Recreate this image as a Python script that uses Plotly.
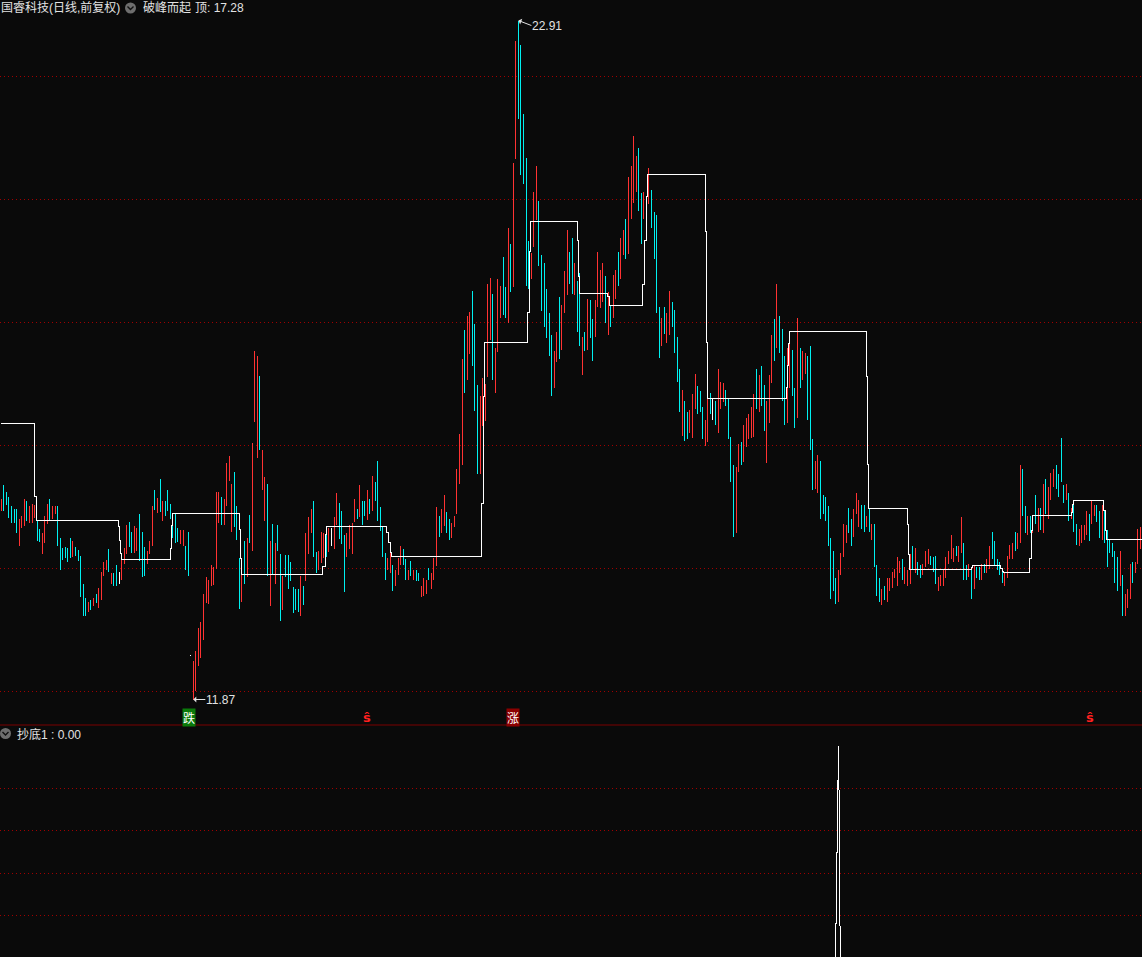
import plotly.graph_objects as go

W, H = 1142, 957

# Daily bars. kinds: r = up, c = down, w = flat
kinds = "".join([
    "rccccccrrr", "crrrccrrrc", "rrccccccrc", "ccccrcrcrr", "rrcrccwrrr",
    "ccrrcccrr", "rcrcrcccccc", "rrccw",
    "rrrrrrrrrrrcrrr",
    "rcccrcrcrr", "rcrrcrcrcc", "rccccccrcr", "rrccrrrcrw", "rrcccrrrrc", "rccrcrccc",
    "ccrrcrrrcc", "rcrccrrrcr", "rrcrrccrrr", "rrcrrcccrr", "rrrcrrrccr", "crrccccc", "r",
    "rrcccccc", "rr", "c", "rrr", "cc", "r", "cc", "r", "c", "r", "cc", "rrrr", "c", "r",
    "crrcrrcrrr", "rccrrrcccc", "rcrrccccrc", "crrrcccrrc", "wcrrrcc",
    "ccrrcrrrrrcr",
    "ccrrrcrccc", "rrccrcrrcc", "crrccccccc", "rrrrccrrrc", "crcrcccrcr",
    "rrrrrcrrrc", "rccrrrcccr", "rrrrrrcrrc", "crcrccrcrr", "cccccrrrrc",
    "rrccrcrcrc", "rcrrrccccr", "crccrrrrcr", "rccrcccccc", "rcrrrcrrr",
])

highs = [
    15.13,15.35,15.24,15.16,15.02,14.96,14.97,14.81,14.85,15.13,
    15.09,15.01,15.05,15.04,14.79,14.65,14.57,14.85,15.05,15.13,
    15.02,15.02,15.01,14.49,14.33,14.35,14.33,14.49,14.44,14.35,
    14.30,14.21,13.75,13.52,13.45,13.48,13.52,13.59,13.68,13.94,
    14.10,14.14,14.32,13.92,13.92,14.05,13.95,14.24,14.33,14.70,
    14.75,14.60,14.69,14.66,14.88,14.60,14.35,14.28,14.44,
    15.01,15.27,15.15,15.46,15.10,15.09,15.28,15.05,14.90,14.88,14.66,14.63,14.62,14.37,14.59,12.60,
    12.49,12.66,13.04,13.13,13.59,13.86,13.81,14.06,14.02,15.24,15.24,15.16,15.13,15.72,15.83,
    15.38,15.57,15.02,14.17,14.14,14.45,14.50,14.87,16.04,17.54,
    17.46,17.13,15.93,15.48,15.38,14.44,14.73,14.42,14.71,14.24,
    13.88,14.22,14.22,14.11,13.70,13.67,13.67,13.88,13.72,14.57,
    14.83,14.96,15.09,14.27,14.29,14.60,14.58,14.55,14.66,14.66,
    14.84,15.23,15.07,14.94,14.55,14.57,14.70,14.74,15.13,14.97,
    15.36,15.10,15.10,15.28,15.13,15.51,15.41,15.75,15.00,
    14.68,14.26,14.17,14.26,14.05,13.98,14.17,14.37,14.31,14.15,
    13.97,14.13,13.97,13.98,13.92,13.72,13.85,13.81,14.01,13.92,
    14.17,15.00,14.86,14.96,15.19,14.92,14.80,14.74,14.86,15.62,
    16.18,17.40,17.87,18.10,18.17,18.52,17.97,16.98,16.80,17.09,
    17.00,18.62,18.72,18.47,17.59,18.70,18.60,19.06,18.58,19.53,
    19.27,20.60,22.57,22.91,22.52,21.39,20.68,19.33,19.13,
    20.12,20.55,19.97,19.09,18.96,18.54,18.15,17.79,17.53,17.84,
    18.41,18.28,18.83,19.51,19.14,19.38,18.96,18.67,18.81,17.76,
    17.84,18.39,18.36,18.05,18.36,19.14,18.86,18.96,18.75,18.50,
    18.29,18.77,18.86,19.14,19.38,19.51,19.69,20.36,20.55,21.04,
    20.70,20.83,20.10,20.13,20.05,20.52,20.15,19.79,19.74,18.25,
    18.07,18.26,18.15,18.51,18.34,18.21,17.76,17.25,16.91,16.72,
    16.54,16.57,16.83,17.17,16.96,16.88,16.62,16.42,16.75,16.85,
    16.75,16.73,17.25,17.03,17.01,16.90,16.75,
    16.14,15.69,15.65,16.03,16.06,16.34,16.45,16.52,16.63,16.83,17.25,17.14,
    17.30,16.98,16.73,17.14,17.79,18.05,18.63,18.10,17.90,17.45,
    17.58,17.66,17.56,16.93,18.08,17.59,17.53,17.50,17.45,17.61,
    16.10,15.74,15.84,15.74,15.19,15.16,15.01,14.50,14.28,13.85,
    13.98,14.25,14.73,14.70,14.99,14.81,14.96,15.23,15.11,15.03,
    15.04,14.85,14.96,14.72,14.73,14.05,13.84,13.66,13.72,13.85,
    13.84,13.95,14.00,14.18,14.13,14.15,14.02,13.97,14.23,14.36,
    14.34,14.10,14.05,14.07,14.28,14.31,14.20,14.18,14.21,13.87,
    13.89,14.00,14.18,14.28,14.54,14.33,14.37,14.37,14.83,14.42,
    14.05,14.07,14.03,14.05,14.02,14.02,14.08,14.08,14.15,14.36,
    14.60,14.44,14.15,14.11,13.98,13.95,14.20,14.39,14.41,14.60,
    14.57,15.68,15.61,15.01,14.85,14.85,14.63,15.19,14.98,14.98,
    15.37,15.45,15.32,15.55,15.61,15.68,15.53,16.13,15.35,15.37,
    15.22,14.98,15.04,14.72,14.65,14.70,14.70,14.93,14.88,15.09,
    15.04,15.04,14.94,15.03,14.94,14.62,14.46,14.41,14.28,14.18,
    14.28,13.89,13.58,13.66,14.07,14.11,14.11,14.65,14.67,
]

lows = [
    14.93,14.93,15.03,14.82,14.74,14.74,14.57,14.37,14.66,14.69,
    14.77,14.74,14.74,14.82,14.44,14.43,14.23,14.41,14.73,14.78,
    14.81,14.88,14.37,13.98,14.14,14.17,14.10,14.17,14.19,14.20,
    14.13,13.53,13.23,13.23,13.29,13.33,13.39,13.44,13.36,13.49,
    13.88,13.97,13.95,13.74,13.71,13.71,13.75,13.81,14.08,14.24,
    14.35,14.26,14.26,14.28,14.12,13.86,13.88,14.08,14.23,
    14.37,14.95,14.90,14.92,14.78,14.85,14.93,14.81,14.49,14.41,14.43,14.40,14.37,13.98,13.88,12.58,
    11.87,12.01,12.41,12.55,12.83,13.44,13.43,13.72,13.73,14.00,14.74,14.70,14.70,15.02,15.43,
    14.59,14.68,14.46,13.34,13.45,13.75,13.87,14.42,14.28,16.39,
    15.79,15.93,15.28,14.77,13.88,13.39,13.90,13.75,14.28,13.14,
    13.32,13.87,13.67,13.80,13.28,13.33,13.30,13.23,13.41,13.79,
    14.24,14.57,14.19,13.93,13.98,14.09,14.17,14.19,14.27,14.37,
    14.32,14.71,14.48,14.40,13.61,14.19,14.32,14.24,14.76,14.81,
    14.83,14.70,14.86,14.79,14.89,14.94,15.10,14.78,14.61,
    14.19,13.82,13.97,13.93,13.63,13.72,13.89,14.05,14.05,13.82,
    13.81,13.88,13.82,13.80,13.80,13.53,13.55,13.59,13.81,13.66,
    13.81,14.04,14.51,14.57,14.69,14.57,14.46,14.49,14.67,14.88,
    15.38,15.68,16.85,17.07,17.48,17.30,16.56,15.53,15.53,16.32,
    16.40,17.11,17.71,17.06,16.85,17.52,18.08,18.13,18.08,18.00,
    18.49,18.58,20.66,21.31,20.40,20.26,18.60,18.55,18.70,
    19.22,19.66,18.92,18.19,17.92,17.74,17.46,16.80,16.93,17.35,
    17.41,17.56,18.15,18.45,18.63,18.47,18.44,17.85,17.61,17.15,
    17.53,17.56,17.74,17.37,17.76,18.26,18.23,18.34,18.00,17.80,
    17.92,18.08,18.39,18.60,18.70,19.09,19.04,19.11,19.69,19.94,
    20.13,19.81,19.27,19.69,19.66,19.92,19.53,19.04,18.16,17.43,
    17.61,17.82,17.66,17.79,17.92,17.50,17.04,16.54,16.15,16.07,
    16.10,16.20,16.13,16.60,16.52,16.55,16.10,16.00,16.05,16.52,
    16.41,16.33,16.20,16.59,16.70,16.65,16.10,
    15.40,14.51,14.57,15.57,15.69,15.73,15.97,16.10,16.13,16.14,16.59,16.54,
    16.65,16.23,15.71,16.36,17.01,17.38,17.58,17.51,16.72,16.33,
    16.36,16.93,16.80,16.28,16.44,16.94,17.06,17.16,16.41,15.92,
    15.27,15.30,15.22,14.81,14.88,14.77,14.36,13.51,13.63,13.42,
    13.46,13.90,14.18,14.41,14.57,14.37,14.52,14.88,14.67,14.65,
    14.59,14.67,14.59,14.46,14.02,13.56,13.46,13.40,13.48,13.46,
    13.63,13.68,13.84,13.71,13.92,13.81,13.74,13.72,13.74,14.00,
    13.93,13.89,13.84,13.90,14.02,14.07,14.05,13.94,13.74,13.63,
    13.72,13.71,13.85,14.07,14.16,14.11,14.20,14.11,14.26,13.81,
    13.82,13.87,13.51,13.66,13.85,13.81,13.82,13.92,13.92,14.00,
    14.16,14.05,13.98,13.90,13.76,13.71,13.84,14.15,14.15,14.28,
    14.31,14.42,14.85,14.57,14.55,14.57,14.57,14.73,14.60,14.62,
    14.57,14.88,14.81,15.11,15.32,15.30,15.16,15.40,15.07,15.11,
    14.77,14.80,14.59,14.39,14.36,14.41,14.47,14.55,14.44,14.72,
    14.86,14.75,14.49,14.47,14.42,14.02,14.25,14.18,13.77,13.64,
    13.72,13.22,13.22,13.35,13.50,13.76,13.92,14.07,14.31,
]

# White stepped indicator: bar position where each level starts, and the level
step_bars = [0,13.16,13.75,45.59,45.98,46.37,46.76,65.9,66.5,66.9,92.85,93.44,93.83,
             125.66,126.45,127.03,150.66,151.25,151.84,152.23,187.77,188.36,188.75,
             205.74,206.33,206.53,224.89,225.48,226.05,236.6,237.4,237.77,
             250.66,251.25,251.84,252.23,274.9,275.47,275.86,
             306.7,307.3,307.5,307.9,337.8,338.4,338.75,353.8,354.4,354.8,
             378.8,379.4,390.5,390.9,391.3,391.7,401.8,402.4,402.8,
             417.9,418.3,418.9,430.7,431.5,431.9,446]
step_levels = [16.36,15.17,14.78,14.68,14.46,14.24,14.15,14.33,14.70,14.89,14.63,14.16,13.90,
               14.03,14.55,14.68,14.59,14.42,14.26,14.20,15.06,16.80,17.67,
               18.16,19.15,19.64,19.33,18.75,18.47,18.42,18.36,18.28,
               18.62,19.33,20.05,20.41,19.48,17.67,16.76,
               16.94,17.30,17.66,17.85,17.12,15.69,14.98,14.72,14.23,13.98,
               14.02,14.05,14.00,13.95,13.93,13.93,14.16,14.62,14.86,
               14.91,15.04,15.11,14.94,14.62,14.47,14.47]

# Lower pane: 抄底1
low_bars = [325.9,325.9,326.2,326.2,326.6,326.6,326.9,326.9,327.3,327.3,327.7,327.7]
low_vals = [0,8,8,25,25,42,42,50.1,37.6,37.6,12.4,0]

price_ticks = [12,14,16,18,20,22]
lower_ticks = [10,20,30,40]

signal_bars = [73.5,143,199.7,425.3]
signal_labels = ["跌","ŝ","涨","ŝ"]
signal_bg = ["#0a7a0a",None,"#8b0000",None]
signal_fg = ["#ffffff","#ff2020","#ffffff","#ff2020"]

assert len(kinds)==len(highs)==len(lows), (len(kinds),len(highs),len(lows))

BG = "#0a0a0a"
COL = {"r":"#ff3232","c":"#00f0f0","w":"#ffffff"}
FONT = "Liberation Sans, Noto Sans CJK SC"
TXT = "#e2e2e2"

fig = go.Figure()
for k in "rcw":
    xs, ys = [], []
    for i,(kk,h,l) in enumerate(zip(kinds,highs,lows)):
        if kk==k:
            xs += [i,i,None]; ys += [l,h,None]
    fig.add_trace(go.Scatter(x=xs,y=ys,mode="lines",line=dict(color=COL[k],width=1),
                             hoverinfo="skip",showlegend=False,connectgaps=False))

fig.add_trace(go.Scatter(x=step_bars,y=step_levels,mode="lines",line=dict(color="#ffffff",width=1,shape="hv"),
                         hoverinfo="skip",showlegend=False))
fig.add_trace(go.Scatter(x=low_bars,y=low_vals,mode="lines",line=dict(color="#ffffff",width=1),
                         xaxis="x",yaxis="y2",hoverinfo="skip",showlegend=False))

px_x = lambda p: p/W
px_y = lambda p: 1-p/H

ann = []
def label(x,y,text,size=12,color=TXT,anchor="left"):
    ann.append(dict(xref="paper",yref="paper",x=px_x(x),y=px_y(y),text=text,showarrow=False,
                    xanchor=anchor,yanchor="middle",font=dict(family=FONT,size=size,color=color)))
label(-1,8,"国睿科技(日线,前复权)")
label(141,8,"破峰而起")
label(193,8,"顶: 17.28")
label(15,734,"抄底1 : 0.00")

peak_i = highs.index(max(highs)); low_i = lows.index(min(lows))
ann.append(dict(x=peak_i,y=max(highs),xref="x",yref="y",text="22.91",showarrow=True,ax=13,ay=5,
                xanchor="left",arrowcolor=TXT,arrowwidth=1,arrowhead=1,arrowsize=1,
                font=dict(family=FONT,size=12,color=TXT),borderpad=0))
ann.append(dict(x=low_i,y=min(lows),xref="x",yref="y",text="11.87",showarrow=True,ax=12,ay=0,
                xanchor="left",arrowcolor=TXT,arrowwidth=1,arrowhead=1,arrowsize=1,
                font=dict(family=FONT,size=12,color=TXT),borderpad=0))

for b,t,bg,fg in zip(signal_bars,signal_labels,signal_bg,signal_fg):
    ann.append(dict(x=b,y=11.58,xref="x",yref="y",text=f"<b>{t}</b>" if not bg else t,showarrow=False,bgcolor=bg,borderpad=0,
                    font=dict(family="Noto Sans CJK SC" if bg else "DejaVu Sans",size=12 if bg else 13,color=fg)))

shapes = [dict(type="line",xref="paper",yref="paper",x0=0,x1=1,y0=px_y(725),y1=px_y(725),
               line=dict(color="#7a0000",width=1))]
for cx,cy in [(130.5,8),(5.5,733.5)]:
    shapes.append(dict(type="circle",xref="paper",yref="paper",x0=px_x(cx-5.5),x1=px_x(cx+5.5),
                       y0=px_y(cy+5.5),y1=px_y(cy-5.5),fillcolor="#6e6e6e",line=dict(width=0)))
    shapes.append(dict(type="path",xref="paper",yref="paper",
                       path=f"M {px_x(cx-3)} {px_y(cy-1.5)} L {px_x(cx)} {px_y(cy+1.5)} L {px_x(cx+3)} {px_y(cy-1.5)}",
                       line=dict(color="#111111",width=1.4)))

fig.update_layout(
    width=W,height=H,margin=dict(l=0,r=0,t=0,b=0),paper_bgcolor=BG,plot_bgcolor=BG,showlegend=False,
    xaxis=dict(domain=[0,1],range=[-1.3/2.56,(W-1.3)/2.56],visible=False,fixedrange=True),
    yaxis=dict(domain=[232/H,1],range=[12-33.5/61.5,12+691.5/61.5],tickvals=price_ticks,showticklabels=False,
               showgrid=True,gridcolor="#a00000",griddash="1px,3px",gridwidth=1,zeroline=False,showline=False,ticks=""),
    yaxis2=dict(domain=[0,232/H],range=[0.196,55.0],tickvals=lower_ticks,showticklabels=False,
                showgrid=True,gridcolor="#a00000",griddash="1px,3px",gridwidth=1,zeroline=False,showline=False,ticks=""),
    annotations=ann,shapes=shapes,
)

post = """
document.body.style.margin='0';
document.documentElement.style.overflow='hidden';
document.querySelectorAll('.js-line, .ygrid, .y2grid, .crisp').forEach(function(e){e.style.shapeRendering='crispEdges';});
"""
fig.write_html("out.html",post_script=post,config=dict(displayModeBar=False))
